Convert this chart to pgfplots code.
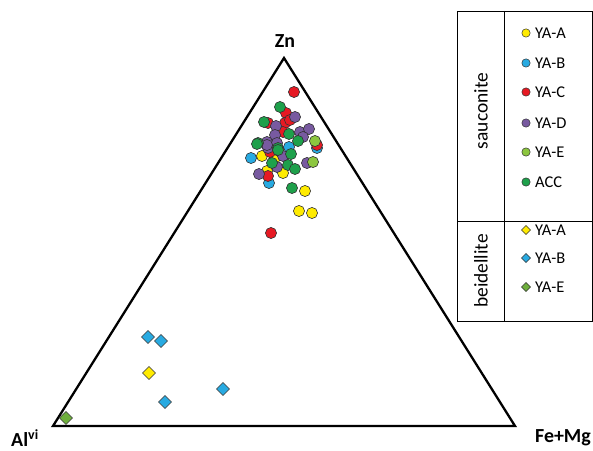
\documentclass[border=0pt]{standalone}
\usepackage{pgfplots}
\pgfplotsset{compat=1.18}
\usepackage{fontspec}
\setmainfont{Carlito}
\definecolor{cYA}{RGB}{255,235,0}
\definecolor{cYB}{RGB}{40,170,225}
\definecolor{cYC}{RGB}{230,25,35}
\definecolor{cYD}{RGB}{120,90,160}
\definecolor{cYE}{RGB}{140,198,63}
\definecolor{cACC}{RGB}{30,160,75}
\definecolor{cBE}{RGB}{110,175,60}
\tikzset{lt/.style={anchor=west, font=\fontsize{16.5}{18}\selectfont, inner sep=0pt}}
\begin{document}
\begin{tikzpicture}
\begin{axis}[
  scale only axis, width=593bp, height=451bp,
  xmin=0, xmax=593, ymin=0, ymax=451, y dir=reverse,
  hide axis, clip=false,
  circ/.style={only marks, mark=*, mark size=5.6pt, mark options={draw=black!80, line width=0.6pt}},
  lcirc/.style={only marks, mark=*, mark size=4.2pt, mark options={draw=black!80, line width=0.5pt}},
  diam/.style={only marks, mark=square*, mark size=4.6pt, mark options={draw=black!80, line width=0.6pt, rotate=45}},
  ldiam/.style={only marks, mark=square*, mark size=3.2pt, mark options={draw=black!80, line width=0.5pt, rotate=45}},
]
\path (axis cs:0,0) rectangle (axis cs:593,451);
% triangle
\addplot[black, line width=2.3pt, line join=miter] coordinates {(53,426) (284,58) (515,426) (53,426) (284,58)};
% sauconite YA-B (blue)
\addplot[circ, fill=cYB] coordinates {(251,158) (269,183) (317,148) (289,147)};
% YA-A yellow
\addplot[circ, fill=cYA] coordinates {(262,156) (305,191) (299,211) (312,213) (267,171) (283,173) (274,160)};
% YA-C red
\addplot[circ, fill=cYC] coordinates {(294,92) (286,113) (268,123) (285,123) (283,132) (268,176) (271,233) (317,145) (290,120) (270,152)};
% YA-D purple
\addplot[circ, fill=cYD] coordinates {(295,117) (276,126) (300,132) (309,129) (275,135) (303,137) (267,142) (277,143) (268,148) (259,174) (277,167) (307,163) (267,145) (283,156)};
% ACC green
\addplot[circ, fill=cACC] coordinates {(280,107) (264,122) (289,134) (258,143) (298,141) (278,148) (257,144) (272,163) (288,165) (295,169) (278,150) (291,154) (292,188)};
% YA-E light green
\addplot[circ, fill=cYE] coordinates {(315,141) (313,162)};
% beidellite
\addplot[diam, fill=cYB] coordinates {(148,337) (161,341) (223,389) (165,402)};
\addplot[diam, fill=cYA] coordinates {(149,373)};
\addplot[diam, fill=cBE] coordinates {(66,418)};
% vertex labels
\node[font=\bfseries\fontsize{20}{22}\selectfont] at (axis cs:285,41) {Zn};
\node[font=\bfseries\fontsize{20}{22}\selectfont, anchor=west, inner sep=0pt] at (axis cs:11,438) {Al\textsuperscript{vi}};
\node[font=\bfseries\fontsize{20}{22}\selectfont, anchor=east, inner sep=0pt] at (axis cs:591,438) {Fe+Mg};
% legend frame
\draw[black, line width=1pt] (axis cs:457,11) rectangle (axis cs:592,321);
\draw[black, line width=1pt] (axis cs:504,11) -- (axis cs:504,321);
\draw[black, line width=1pt] (axis cs:457,221) -- (axis cs:592,221);
\node[rotate=90, font=\fontsize{19.5}{21}\selectfont] at (axis cs:481,111) {sauconite};
\node[rotate=90, font=\fontsize{19.5}{21}\selectfont] at (axis cs:481,271) {beidellite};
\addplot[lcirc, fill=cYA] coordinates {(526,33)};
\addplot[lcirc, fill=cYB] coordinates {(526,63)};
\addplot[lcirc, fill=cYC] coordinates {(526,92)};
\addplot[lcirc, fill=cYD] coordinates {(526,123)};
\addplot[lcirc, fill=cYE] coordinates {(526,152)};
\addplot[lcirc, fill=cACC] coordinates {(526,182)};
\addplot[ldiam, fill=cYA] coordinates {(526,230)};
\addplot[ldiam, fill=cYB] coordinates {(526,258)};
\addplot[ldiam, fill=cBE] coordinates {(526,287)};
\node[lt] at (axis cs:535,33) {YA-A};
\node[lt] at (axis cs:535,63) {YA-B};
\node[lt] at (axis cs:535,92) {YA-C};
\node[lt] at (axis cs:535,123) {YA-D};
\node[lt] at (axis cs:535,152) {YA-E};
\node[lt] at (axis cs:535,182) {ACC};
\node[lt] at (axis cs:535,230) {YA-A};
\node[lt] at (axis cs:535,258) {YA-B};
\node[lt] at (axis cs:535,287) {YA-E};
\end{axis}
\end{tikzpicture}
\end{document}
